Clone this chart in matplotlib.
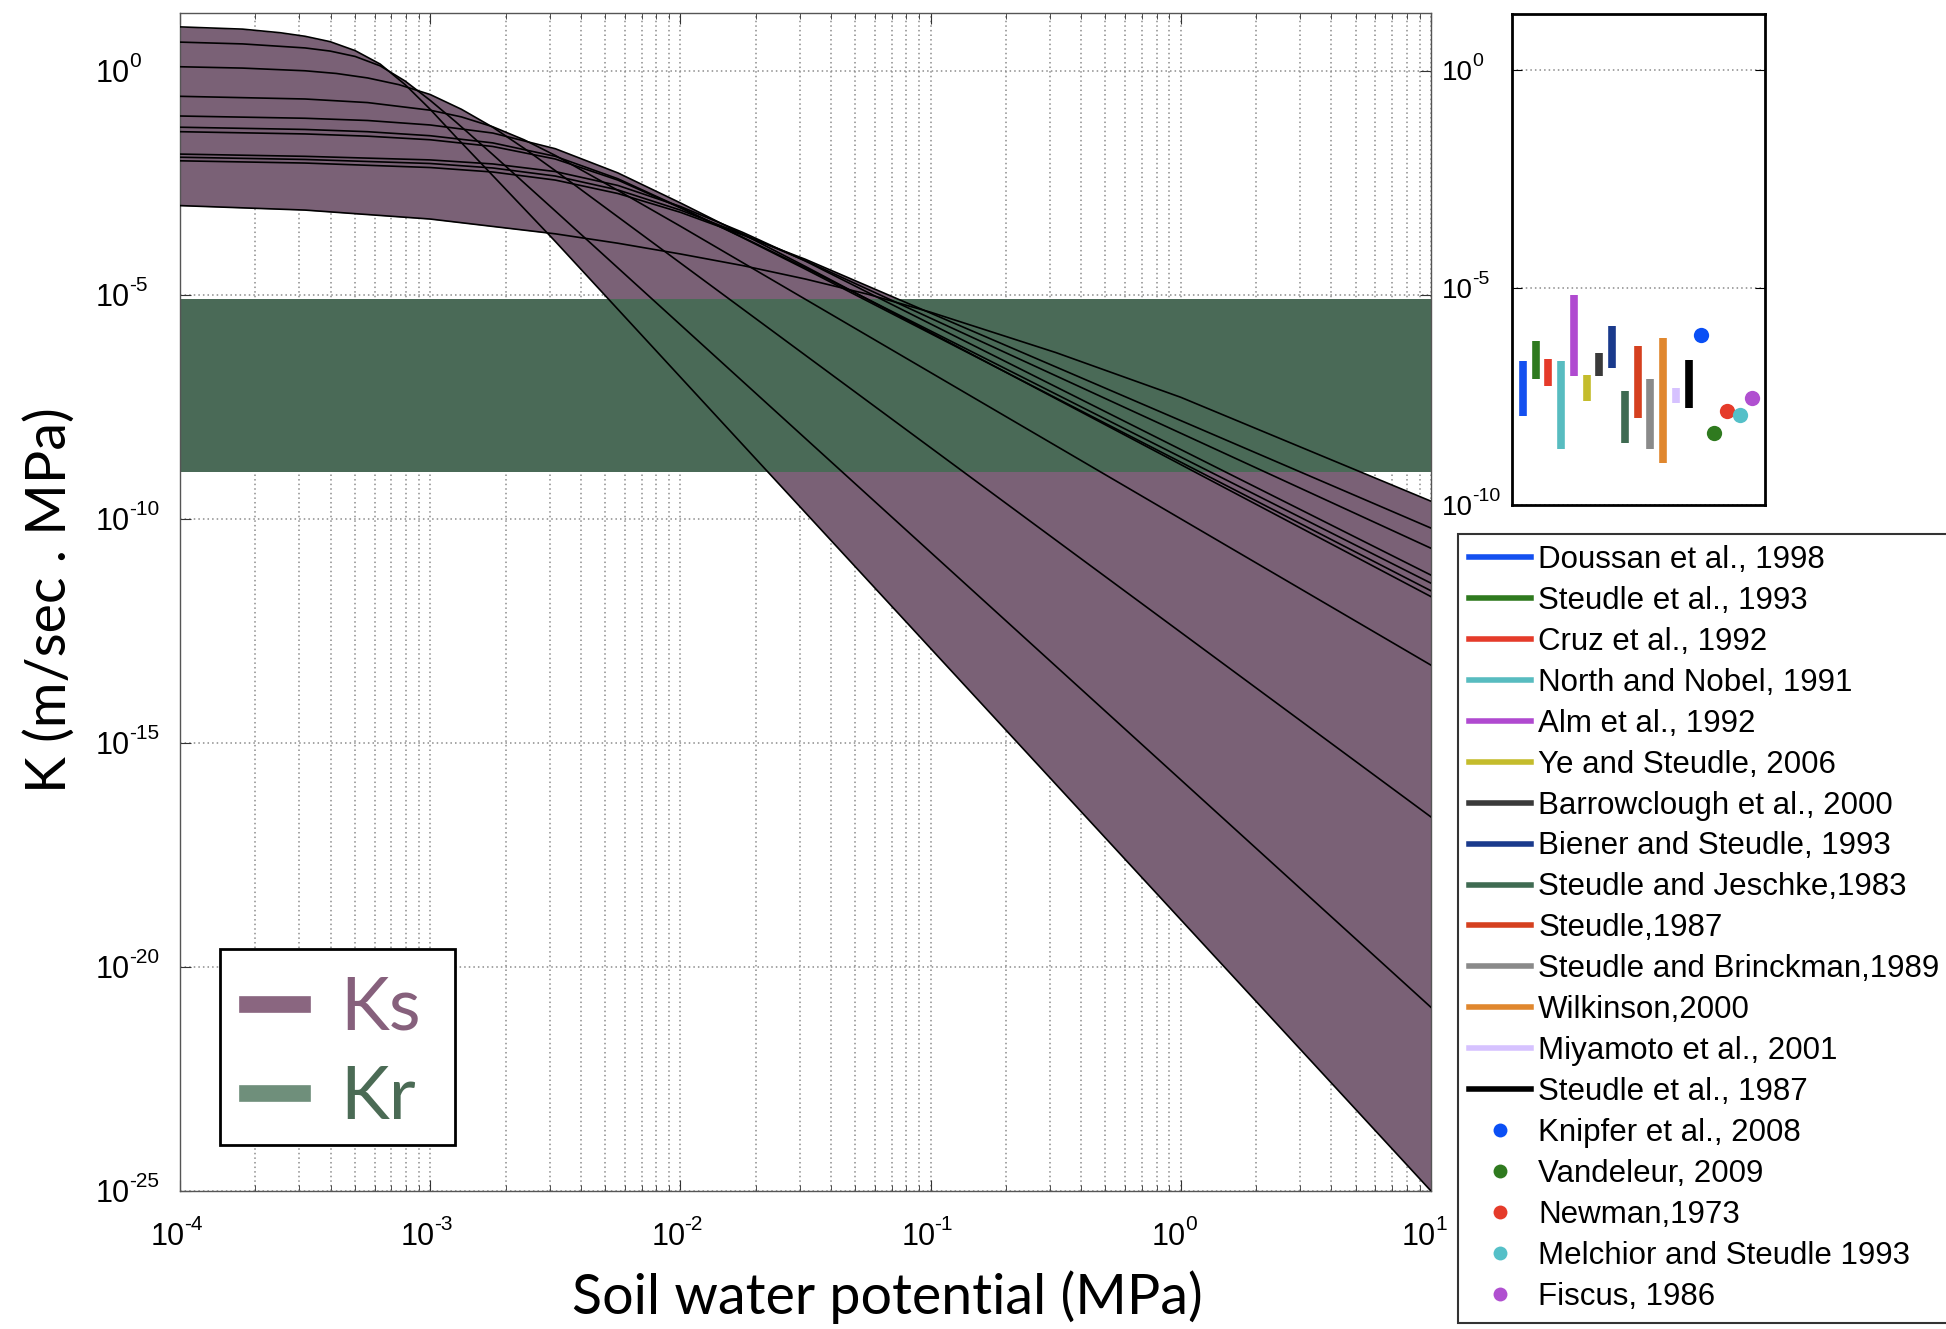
import numpy as np
import matplotlib.pyplot as plt
from matplotlib.lines import Line2D
from matplotlib.patches import Rectangle
from matplotlib.ticker import FixedLocator, LogLocator, NullLocator, NullFormatter
from matplotlib.transforms import offset_copy, blended_transform_factory

plt.rcParams['font.family'] = ['Liberation Sans', 'DejaVu Sans']

# --- soil hydraulic conductivity curves (log10 units) ---
# psi in MPa, K in m/(s.MPa); one pair of lists per soil curve
psi_a = [-4, -3.75, -3.6, -3.5, -3.4, -3.3, -3.2, -3.1, -3.0, -2.9, -2.75, -2.5, 1]
k_a = [0.99, 0.94, 0.86, 0.78, 0.66, 0.46, 0.16, -0.3, -0.85, -1.45, -2.33, -3.8, -25.0]
psi_b = [-4, -3.75, -3.5, -3.4, -3.3, -3.2, -3.1, -3.0, -2.9, -2.75, -2.5, 1]
k_b = [0.65, 0.61, 0.52, 0.45, 0.33, 0.12, -0.22, -0.65, -1.12, -1.86, -3.12, -20.9]
psi_c = [-4, -3.75, -3.5, -3.375, -3.25, -3.125, -3.0, -2.875, -2.75, -2.625, -2.5, 1]
k_c = [0.1, 0.07, 0.01, -0.05, -0.15, -0.3, -0.52, -0.85, -1.25, -1.72, -2.22, -16.65]
psi_d = [-4, -3.5, -3.25, -3.0, -2.875, -2.75, -2.625, -2.5, -2.25, -2.0, 1]
k_d = [-0.56, -0.62, -0.7, -0.87, -1.02, -1.24, -1.53, -1.88, -2.66, -3.46, -13.26]
psi_e = [-4, -3.5, -3.25, -3.0, -2.75, -2.5, -2.25, -2.0, -1.75, -1.5, 1]
k_e = [-1.0, -1.05, -1.1, -1.2, -1.38, -1.73, -2.27, -2.94, -3.64, -4.36, -11.73]
k_f1 = [-1.25, -1.3, -1.35, -1.44, -1.6, -1.9, -2.4, -3.04, -3.72, -4.42, -11.6]
k_f2 = [-1.35, -1.4, -1.45, -1.53, -1.68, -1.96, -2.43, -3.05, -3.71, -4.39, -11.43]
psi_g = [-4, -3.5, -3.0, -2.75, -2.5, -2.25, -2.0, -1.75, -1.5, 1]
k_g1 = [-1.85, -1.9, -1.98, -2.07, -2.24, -2.55, -3.02, -3.6, -4.24, -11.25]
k_g2 = [-1.92, -1.97, -2.06, -2.16, -2.34, -2.65, -3.1, -3.64, -4.23, -10.65]
k_g3 = [-2.0, -2.05, -2.15, -2.25, -2.43, -2.73, -3.15, -3.66, -4.2, -10.2]
psi_h = [-4, -3.5, -3.0, -2.5, -2.25, -2.0, -1.75, -1.5, -1.25, -1.0, -0.5, 0, 1]
k_h = [-3.0, -3.1, -3.3, -3.63, -3.84, -4.08, -4.34, -4.64, -4.98, -5.38, -6.28, -7.28, -9.6]

curves = [(psi_a, k_a), (psi_b, k_b), (psi_c, k_c), (psi_d, k_d),
          (psi_e, k_e), (psi_e, k_f1), (psi_e, k_f2),
          (psi_g, k_g1), (psi_g, k_g2), (psi_g, k_g3), (psi_h, k_h)]

# root conductivity band (log10)
kr_lo, kr_hi = -8.95, -5.09

# --- root conductivity measurements (log10), right panel ---
studies = ["Doussan et al., 1998", "Steudle et al., 1993", "Cruz et al., 1992",
           "North and Nobel, 1991", "Alm et al., 1992", "Ye and Steudle, 2006",
           "Barrowclough et al., 2000", "Biener and Steudle, 1993",
           "Steudle and Jeschke,1983", "Steudle,1987", "Steudle and Brinckman,1989",
           "Wilkinson,2000", "Miyamoto et al., 2001", "Steudle et al., 1987"]
range_lo = [-7.95, -7.10, -7.26, -8.71, -7.03, -7.6, -7.03, -6.84, -8.57, -7.99, -8.71, -9.03, -7.65, -7.76]
range_hi = [-6.68, -6.22, -6.64, -6.68, -5.18, -7.0, -6.51, -5.88, -7.37, -6.34, -7.10, -6.15, -7.3, -6.66]
range_colors = ['#1450f0', '#2f7a1f', '#e53b2a', '#58bcc0', '#b04ad0', '#c4bc2c',
                '#3a3a3a', '#1a3a8c', '#3f6b52', '#d5401f', '#8a8a8a', '#e0872e',
                '#d6c2ff', '#000000']
point_studies = ["Knipfer et al., 2008", "Vandeleur, 2009", "Newman,1973",
                 "Melchior and Steudle 1993", "Fiscus, 1986"]
point_vals = [-6.1, -8.34, -7.85, -7.93, -7.53]
point_colors = ['#0a4ff5', '#2f7a1f', '#e53b2a', '#55c0c8', '#b050d0']

main_yticks = [1e-25, 1e-20, 1e-15, 1e-10, 1e-5, 1e0]
main_xticks = [1e-4, 1e-3, 1e-2, 1e-1, 1e0, 1e1]
inset_yticks = [1e-10, 1e-5, 1e0]

ks_color = '#7a6176'
kr_color = '#4a6a57'


def power_labels(axes, values, on_x, base_dx, base_dy, sup_dx, sup_dy, size, sup_size):
    # matlab-like "10" with a small raised exponent
    if on_x:
        trans = blended_transform_factory(axes.transData, axes.transAxes)
    else:
        trans = blended_transform_factory(axes.transAxes, axes.transData)
    for v in values:
        xy = (v, 0) if on_x else (0, v)
        e = int(round(np.log10(v)))
        axes.text(*xy, '10', fontsize=size, ha='right', va='baseline', clip_on=False,
                  transform=offset_copy(trans, fig=fig, x=base_dx, y=base_dy, units='dots'))
        axes.text(*xy, str(e), fontsize=sup_size, ha='left', va='baseline', clip_on=False,
                  transform=offset_copy(trans, fig=fig, x=sup_dx, y=sup_dy, units='dots'))


fig = plt.figure(figsize=(19.46, 13.29), dpi=100)
ax = fig.add_axes([180 / 1946, 1 - 1191 / 1329, 1251 / 1946, 1178 / 1329])
ax.set_xscale('log')
ax.set_yscale('log')
ax.set_xlim(1e-4, 10)
ax.set_ylim(1e-25, 10 ** 1.3)

# purple envelope of all soil curves
grid = np.linspace(-4, 1, 800)
stack = np.array([np.interp(grid, p, k) for p, k in curves])
ax.fill_between(10 ** grid, 10 ** stack.min(axis=0), 10 ** stack.max(axis=0),
                color=ks_color, lw=0, zorder=1)
ax.axhspan(10 ** kr_lo, 10 ** kr_hi, color=kr_color, lw=0, zorder=2)
for p, k in curves:
    ax.plot(10 ** np.array(p), 10 ** np.array(k), color='black', lw=1.2, zorder=3)

ax.yaxis.set_major_locator(FixedLocator(main_yticks))
ax.yaxis.set_minor_locator(NullLocator())
ax.yaxis.set_major_formatter(NullFormatter())
ax.xaxis.set_major_locator(FixedLocator(main_xticks))
ax.xaxis.set_major_formatter(NullFormatter())
ax.xaxis.set_minor_locator(LogLocator(base=10, subs=np.arange(2, 10), numticks=20))
ax.xaxis.set_minor_formatter(NullFormatter())
ax.set_axisbelow(True)
ax.grid(True, which='major', ls=(0, (1, 2)), color='#8c8c8c', lw=1.1)
ax.grid(True, which='minor', axis='x', ls=(0, (1, 2)), color='#8c8c8c', lw=1.1)
ax.tick_params(which='both', direction='in', top=True, right=True, color='#333')
ax.tick_params(which='major', length=8)
ax.tick_params(which='minor', length=4)
for s in ax.spines.values():
    s.set_color('#555555')
    s.set_linewidth(1.0)

power_labels(ax, main_yticks, False, -50, -11, -51, 4, 22, 15)
power_labels(ax, main_xticks, True, 5, -54, 4, -39, 22, 15)

# Ks / Kr key: white box with black frame, entries on top
ax.add_patch(Rectangle((220 / 1946, 1 - 1145 / 1329), 235 / 1946, 196 / 1329,
                       transform=fig.transFigure, facecolor='white', edgecolor='black',
                       lw=2, zorder=5, clip_on=False))
ks_legend = ax.legend(
    [Line2D([], [], color='#8a6680', lw=12), Line2D([], [], color='#6f8f7b', lw=12)],
    ['Ks', 'Kr'], prop={'family': 'Lato', 'size': 53},
    labelcolor=['#86607c', '#4b6b55'], loc='upper left',
    bbox_to_anchor=(220 / 1946, 1 - 949 / 1329), bbox_transform=fig.transFigure,
    borderaxespad=0, borderpad=0.36, handlelength=0.76, handletextpad=0.52,
    labelspacing=0.3, frameon=False)
ks_legend.set_zorder(6)

fig.text(887 / 1946, 1 - 1297 / 1329, 'Soil water potential (MPa)', family='Lato',
         fontsize=40, ha='center', va='center')
fig.text(50 / 1946, 1 - 600 / 1329, 'K (m/sec . MPa)', family='Lato',
         fontsize=40, ha='center', va='center', rotation=90)

# right panel: measured root conductivities
ins = fig.add_axes([1512 / 1946, 1 - 505 / 1329, 253 / 1946, 491 / 1329])
ins.set_yscale('log')
ins.set_ylim(1e-10, 10 ** 1.29)
ins.set_xlim(0.15, 20)
handles = []
for i, (lo, hi, c) in enumerate(zip(range_lo, range_hi, range_colors)):
    ins.plot([i + 1, i + 1], [10 ** lo, 10 ** hi], color=c, lw=5.5, solid_capstyle='butt')
    handles.append(Line2D([], [], color=c, lw=4))
for j, (v, c) in enumerate(zip(point_vals, point_colors)):
    ins.plot([len(range_lo) + j + 1], [10 ** v], 'o', color=c, ms=11, mec='none')
    handles.append(Line2D([], [], ls='none', marker='o', color=c, ms=10, mec='none'))
ins.xaxis.set_major_locator(NullLocator())
ins.yaxis.set_major_locator(FixedLocator(inset_yticks))
ins.yaxis.set_minor_locator(NullLocator())
ins.yaxis.set_major_formatter(NullFormatter())
ins.grid(True, axis='y', ls=(0, (1, 2)), color='#8a8a8a', lw=1.1)
ins.tick_params(axis='y', direction='in', right=True, length=7)
for s in ins.spines.values():
    s.set_color('black')
    s.set_linewidth(2)
power_labels(ins, inset_yticks, False, -39, -10, -40, 4, 20, 14)

leg = fig.legend(handles, studies + point_studies, loc='upper left',
                 bbox_to_anchor=(1458 / 1946, 1 - 534 / 1329), borderaxespad=0,
                 prop={'size': 22.5}, handlelength=2.0, handletextpad=0.22,
                 borderpad=0.35, labelspacing=0.35, fancybox=False, framealpha=1,
                 edgecolor='#333333')
leg.get_frame().set_linewidth(1.5)

fig.savefig('out.png', dpi=100)
